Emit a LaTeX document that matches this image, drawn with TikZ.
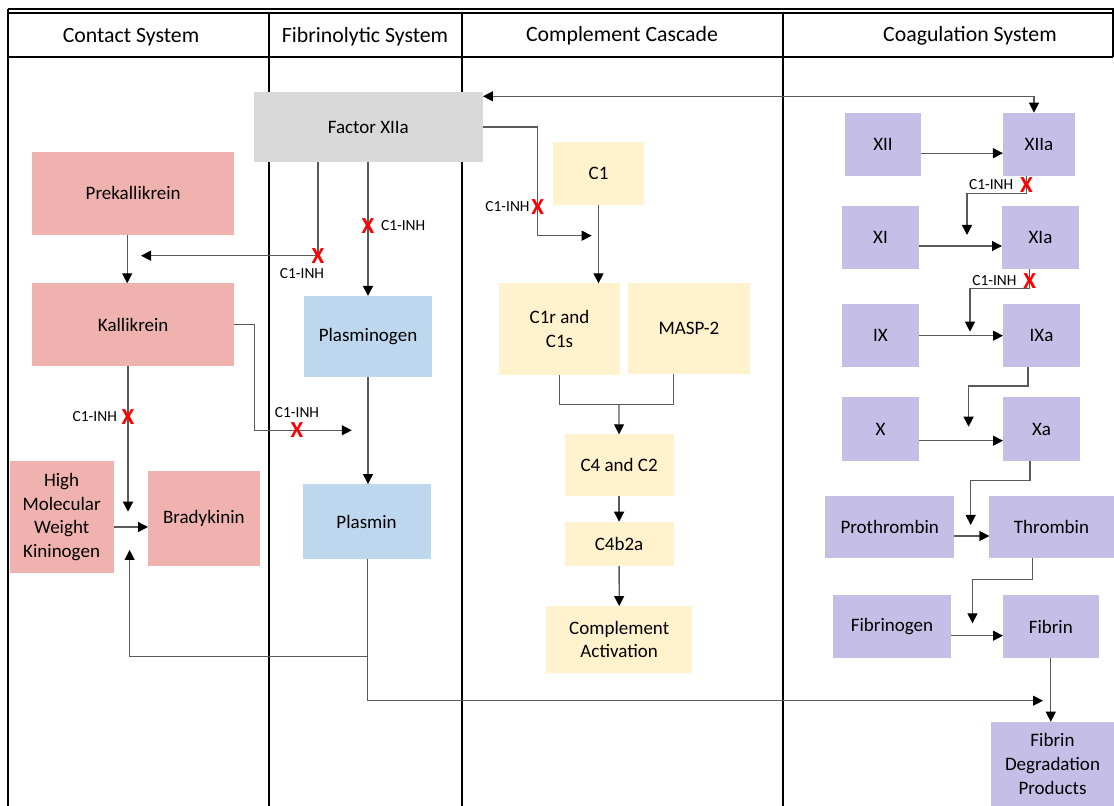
\documentclass[tikz,border=0pt]{standalone}
\usepackage{fontspec}
\setmainfont{Carlito}
\usetikzlibrary{positioning,calc,arrows.meta}

\definecolor{kinpink}{HTML}{F0B2AE}
\definecolor{fibblue}{HTML}{BDD7EE}
\definecolor{compyellow}{HTML}{FFF2CC}
\definecolor{coagpurple}{HTML}{C5BEE7}
\definecolor{factorgray}{HTML}{D9D9D9}
\definecolor{linkgray}{HTML}{595959}

\begin{document}
\begin{tikzpicture}[x=0.5pt,y=-0.5pt,
  box/.style={rectangle, inner sep=0pt, outer sep=0pt, align=center,
    font=\fontsize{9.5}{11.8}\selectfont},
  wh/.style 2 args={minimum width=#1*0.5pt, minimum height=#2*0.5pt},
  contact/.style={box, fill=kinpink},
  fibrino/.style={box, fill=fibblue},
  compl/.style={box, fill=compyellow},
  coag/.style={box, fill=coagpurple},
  factor/.style={box, fill=factorgray},
  laneline/.style={draw=black, line width=1pt},
  lanehead/.style={font=\fontsize{10.9}{13}\selectfont},
  link/.style={draw=linkgray, line width=0.65pt},
  arr/.style={link, -{Triangle[length=5pt,width=5pt,color=black]}},
  dbl/.style={link, {Triangle[length=5pt,width=5pt,color=black]}-{Triangle[length=5pt,width=5pt,color=black]}},
  redx/.style={text=red, inner sep=0pt, font=\bfseries\fontsize{11.5}{12}\selectfont},
  inhlbl/.style={inner sep=0pt, font=\fontsize{7.7}{9}\selectfont}]

\useasboundingbox (0,0) rectangle (1114,806);

% Lanes
\draw[laneline] (8,9) -- (1114,9);
\draw[link, draw=black] (8,13) -- (1114,13);
\draw[laneline] (8,9) -- (8,806);
\draw[laneline] (8,57) -- (1113,57);
\draw[laneline] (1113,9) -- (1113,57);
\draw[laneline] (269,13) -- (269,806);
\draw[laneline] (462,13) -- (462,806);
\draw[laneline] (783,13) -- (783,806);

\node[lanehead] (hcontact) at (131,37) {Contact System};
\node[lanehead] (hfibrino) at (365,37) {Fibrinolytic System};
\node[lanehead] (hcompl) at (622,36) {Complement Cascade};
\node[lanehead] (hcoag) at (970,36) {Coagulation System};

% Define nodes
\node[factor, wh={229.3}{69.4}] (fxiia) at (368.3,127) {Factor XIIa};
\node[contact, wh={201.5}{82.7}] (prek) at (133.2,193.3) {Prekallikrein};
\node[contact, wh={201.5}{82.4}] (kall) at (133.2,324.5) {Kallikrein};
\node[contact, wh={104}{112.6}] (hmwk) at (61.6,517) {High\\Molecular\\Weight\\Kininogen};
\node[contact, wh={111.6}{94.7}] (brady) at (203.8,518.7) {Bradykinin};
\node[fibrino, wh={128}{80.7}] (plgn) at (368,336.3) {Plasminogen};
\node[fibrino, wh={128.2}{75.3}] (plsm) at (366.6,521.7) {Plasmin};
\node[compl, wh={90.4}{62.4}] (cone) at (598.5,173.5) {C1};
\node[compl, wh={120.4}{91.7}] (cones) at (559.5,329.2) {C1r and\\C1s};
\node[compl, wh={122.3}{91}] (masp) at (688.9,328.8) {MASP-2};
\node[compl, wh={109}{61.4}] (cfour) at (619.1,465) {C4 and C2};
\node[compl, wh={109}{44.3}] (cfourb) at (619.1,543.9) {C4b2a};
\node[compl, wh={146.3}{66.7}] (cact) at (619.2,639.4) {Complement\\Activation};
\node[coag, wh={76.8}{63}] (xii) at (883,144.2) {XII};
\node[coag, wh={72.1}{63}] (xiia) at (1039,144.2) {XIIa};
\node[coag, wh={77}{63.4}] (xi) at (880.5,237.4) {XI};
\node[coag, wh={77}{63.4}] (xia) at (1040.5,237.4) {XIa};
\node[coag, wh={77}{63.3}] (ix) at (880.5,335.7) {IX};
\node[coag, wh={77}{63.3}] (ixa) at (1041.5,335.7) {IXa};
\node[coag, wh={77}{63.4}] (xf) at (880.5,429) {X};
\node[coag, wh={77}{63.4}] (xa) at (1041.5,429) {Xa};
\node[coag, wh={129.3}{62.6}] (pthr) at (889.7,527) {Prothrombin};
\node[coag, wh={124.3}{62.6}] (thr) at (1051.5,527) {Thrombin};
\node[coag, wh={118}{63.3}] (fbgn) at (892,626.7) {Fibrinogen};
\node[coag, wh={95.6}{63.3}] (fbn) at (1050.8,626.7) {Fibrin};
\node[coag, wh={123}{84.3}] (fdp) at (1052.5,763.9) {Fibrin\\Degradation\\Products};

% Bends and free ends
\coordinate (cbend) at (537.7,235.7);
\coordinate (cin) at (591.7,235.7);
\coordinate (kbend) at (318,255.7);
\coordinate (kin) at (141,255.7);
\coordinate (pbend) at (254.6,430.3);
\coordinate (pin) at (351.8,430.3);
\coordinate (bin) at (128,511.7);
\coordinate (hk) at ($(hmwk.east)+(0,10)$);
\coordinate (pj) at (367.5,656.7);
\coordinate (hin) at (129.6,550);
\coordinate (pf) at (367.5,700.7);
\coordinate (fin) at (1043,700.7);
\coordinate (cj) at (619,404.3);
\coordinate (b1) at (967,193.3);
\coordinate (in1) at (967,235);
\coordinate (b2) at (970,288.7);
\coordinate (in2) at (970,331.7);
\coordinate (b3) at (968.6,386);
\coordinate (in3) at (968.6,426.7);
\coordinate (b4) at (970.7,480.7);
\coordinate (in4) at (970.7,525);
\coordinate (b5) at (972.5,579.3);
\coordinate (in5) at (972.5,623.3);

% Draw edges
\draw[dbl] ($(fxiia.north east)+(0,4)$) -| ($(xiia.north)+(-5,0)$);
\draw[arr] (fxiia.east) -| (cbend) -- (cin);
\draw[arr] (fxiia.south -| kbend) -- (kbend) -- (kin);
\draw[arr] (fxiia.south -| plgn.north) -- (plgn.north);
\draw[arr] ([xshift=-3pt]prek.south) -- ([xshift=-3pt]kall.north);
\draw[arr] (kall.east) -| (pbend) -- (pin);
\draw[arr] (kall.south -| bin) -- (bin);
\draw[arr] (hk) -- (hk -| brady.west);
\draw[arr] (plgn.south) -- (plgn.south |- plsm.north);
\draw[arr] (plsm.south -| pj) -- (pj) -| (hin);
\draw[arr] (pj) -- (pf) -- (fin);

\draw[arr] (cone.south) -- (cone.south |- cones.north);
\draw[link] (cones.south) |- (cj);
\draw[link] ($(masp.south)+(-15.3,0)$) |- (cj);
\draw[arr] (cj) -- (cfour.north);
\draw[arr] (cfour.south) -- (cfourb.north);
\draw[arr] (cfourb.south) -- (cact.north);

\draw[arr] ($(xii.east)+(0,9)$) -- ($(xiia.west)+(0,9)$);
\draw[arr] ($(xi.east)+(0,8.6)$) -- ($(xia.west)+(0,8.6)$);
\draw[arr] (ix.east) -- (ixa.west);
\draw[arr] ($(xf.east)+(0,11.7)$) -- ($(xa.west)+(0,11.7)$);
\draw[arr] ($(pthr.east)+(0,9)$) -- ($(thr.west)+(0,9)$);
\draw[arr] ($(fbgn.east)+(0,9)$) -- ($(fbn.west)+(0,9)$);
\draw[arr] ($(xiia.south)+(-12.6,0)$) |- (b1) -- (in1);
\draw[arr] ($(xia.south)+(-10.9,0)$) |- (b2) -- (in2);
\draw[arr] ($(ixa.south)+(-13.5,0)$) |- (b3) -- (in3);
\draw[arr] ($(xa.south)+(-11.5,0)$) |- (b4) -- (in4);
\draw[arr] ($(thr.south)+(-19,0)$) |- (b5) -- (in5);
\draw[arr] (fbn.south) -- (fbn.south |- fdp.north);

% Inhibition marks
\node[redx] (xc) at (537.7,206.7) {X};
\node[inhlbl, left=0.5pt of xc] (ic) {C1-INH};
\node[redx] (xk) at (kbend) {X};
\node[inhlbl] (ik) at (302,274) {C1-INH};
\node[redx] (xp) at (368,226) {X};
\node[inhlbl, right=3pt of xp] (ip) {C1-INH};
\node[redx] (xpl) at (297,430.3) {X};
\node[inhlbl, above=2pt of xpl] (ipl) {C1-INH};
\node[redx] (xb) at (128,416.7) {X};
\node[inhlbl, left=2pt of xb] (ib) {C1-INH};
\node[redx] (xg) at (1026.4,185) {X};
\node[inhlbl, left=3pt of xg] (ig) {C1-INH};
\node[redx] (xh) at (1029.6,281) {X};
\node[inhlbl, left=3pt of xh] (ih) {C1-INH};
\end{tikzpicture}
\end{document}
